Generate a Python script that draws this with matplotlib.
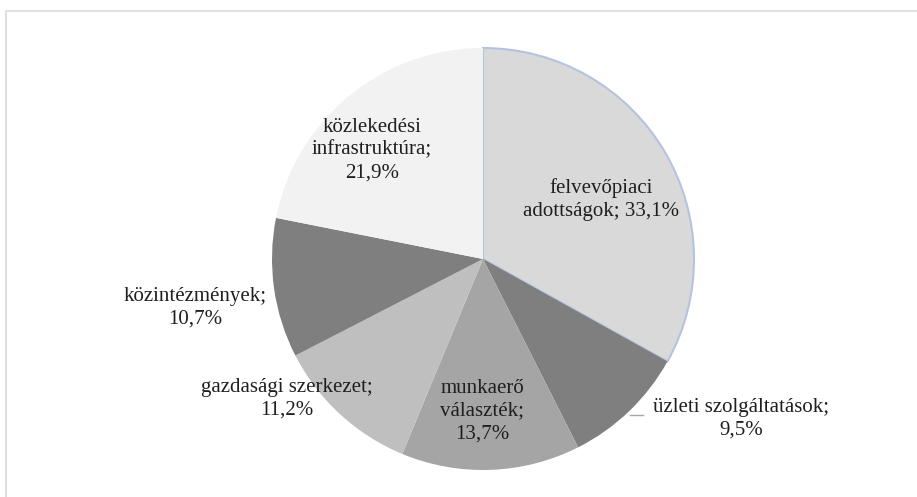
import matplotlib.pyplot as plt
from matplotlib.lines import Line2D

plt.rcParams['font.family'] = 'serif'
plt.rcParams['font.serif'] = ['Liberation Serif', 'DejaVu Serif']

# slice data (clockwise from 12 o'clock)
labels = ['felvevőpiaci\nadottságok; 33,1%', 'üzleti szolgáltatások;\n9,5%',
          'munkaerő\nválaszték;\n13,7%', 'gazdasági szerkezet;\n11,2%',
          'közintézmények;\n10,7%', 'közlekedési\ninfrastruktúra;\n21,9%']
shares = [33.1, 9.5, 13.7, 11.2, 10.7, 21.9]
colors = ['#d9d9d9', '#7f7f7f', '#a5a5a5', '#bfbfbf', '#7f7f7f', '#f2f2f2']

# label anchor points in pixel coords (x, y from top)
label_pos = [(601, 200), (741, 419), (482, 411), (287, 399), (195, 308), (372, 150)]

W, H = 917, 497
fig = plt.figure(figsize=(W / 100, H / 100), dpi=100)
fig.patch.set_facecolor('white')

# outer chart frame, only top and left edges visible
fig.add_artist(Line2D([6 / W, 1], [1 - 11 / H, 1 - 11 / H], transform=fig.transFigure,
                      color='#e0e0e0', linewidth=1.5))
fig.add_artist(Line2D([6 / W, 6 / W], [0, 1 - 11 / H], transform=fig.transFigure,
                      color='#e0e0e0', linewidth=1.5))

ax = fig.add_axes([0, 0, 1, 1])

cx, cy, r = 483, H - 259, 211
wedges, _ = ax.pie(shares, colors=colors, startangle=90, counterclock=False,
                   center=(cx, cy), radius=r, frame=True,
                   wedgeprops=dict(linewidth=0))
wedges[0].set_edgecolor('#b4c4e0')
wedges[0].set_linewidth(1.5)
ax.set_xlim(0, W)
ax.set_ylim(0, H)
ax.set_aspect('equal')
ax.axis('off')

for lab, (x, y) in zip(labels, label_pos):
    ax.text(x, H - y, lab, ha='center', va='center', fontsize=15,
            color='#1f1f1f', linespacing=1.28)

# leader line for the small slice label
ax.plot([630, 643], [H - 415, H - 415], color='#a6a6a6', linewidth=1)

fig.savefig('out.png', dpi=100)
